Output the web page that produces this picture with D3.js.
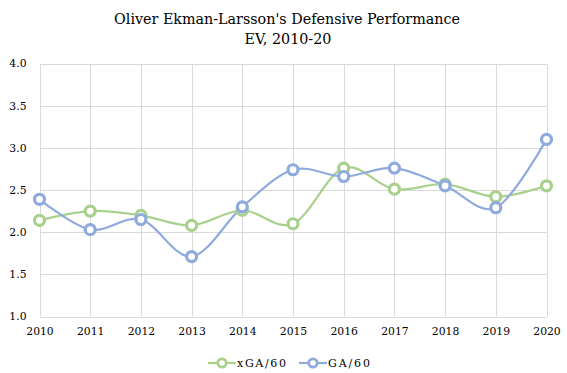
<!DOCTYPE html>
<html><head><meta charset="utf-8">
<script src="https://cdn.jsdelivr.net/npm/d3@7"></script>
<style>body{margin:0;background:#fff}svg{display:block}</style>
</head><body>
<svg id="c" width="567" height="373" font-family="DejaVu Serif, serif"></svg>
<script>
const years = [2010,2011,2012,2013,2014,2015,2016,2017,2018,2019,2020];
const xGA60 = [2.14,2.25,2.20,2.08,2.26,2.10,2.76,2.51,2.57,2.42,2.55];
const GA60  = [2.39,2.03,2.15,1.71,2.30,2.74,2.66,2.76,2.55,2.29,3.10];
const yTicks = [1.0,1.5,2.0,2.5,3.0,3.5,4.0];
const seriesNames = ["xGA/60","GA/60"];
const colors = ["#a9d18e","#8faadc"];
const FONT = "DejaVu Serif, serif";

const svg = d3.select("#c");
const x = d3.scaleLinear().domain([2010,2020]).range([39.5,546.5]);
const y = d3.scaleLinear().domain([1,4]).range([316.5,63.5]);

svg.append("text").attr("x",287).attr("y",24).attr("text-anchor","middle").attr("font-family",FONT).attr("font-size",14.3).text("Oliver Ekman-Larsson's Defensive Performance");
svg.append("text").attr("x",288).attr("y",44).attr("text-anchor","middle").attr("font-family",FONT).attr("font-size",14.3).text("EV, 2010-20");

const g = svg.append("g");
g.selectAll(".hg").data(yTicks).join("line").attr("x1",x(2010)).attr("x2",x(2020))
 .attr("y1",d=>Math.round(y(d))+0.5).attr("y2",d=>Math.round(y(d))+0.5).attr("stroke","#d9d9d9").attr("stroke-width",1);
g.selectAll(".vg").data(years).join("line").attr("y1",y(4)).attr("y2",y(1))
 .attr("x1",d=>Math.round(x(d))+0.5).attr("x2",d=>Math.round(x(d))+0.5).attr("stroke","#d9d9d9").attr("stroke-width",1);

const yAxis = d3.axisLeft(y).tickValues(yTicks).tickFormat(d3.format(".1f")).tickSize(0).tickPadding(13);
const ya = svg.append("g").attr("transform",`translate(${x(2010)},0)`).call(yAxis)
 .attr("font-family",FONT).attr("font-size",10.8);
ya.select(".domain").remove();
ya.selectAll("text").attr("fill","#000");
const xAxis = d3.axisBottom(x).tickValues(years).tickFormat(d3.format("d")).tickSize(0).tickPadding(11);
const xa = svg.append("g").attr("transform",`translate(0,${y(1)})`).call(xAxis)
 .attr("font-family",FONT).attr("font-size",10.8);
xa.select(".domain").remove();
xa.selectAll("text").attr("fill","#000");

const series = [xGA60, GA60];
const line = d3.line().x((d,i)=>x(years[i])).y(d=>y(d)).curve(d3.curveCardinal.tension(0));
series.forEach((s,k)=>{
  svg.append("path").datum(s).attr("d",line).attr("fill","none").attr("stroke",colors[k]).attr("stroke-width",2.2);
});
series.forEach((s,k)=>{
  svg.selectAll(".m"+k).data(s).join("circle").attr("cx",(d,i)=>x(years[i])).attr("cy",d=>y(d))
   .attr("r",5).attr("fill","#fff").attr("stroke",colors[k]).attr("stroke-width",3.2);
});

const leg = [{x0:208,tx:237,w:49},{x0:299,tx:328,w:42}];
seriesNames.forEach((n,k)=>{
  const L = leg[k];
  svg.append("line").attr("x1",L.x0).attr("x2",L.x0+28).attr("y1",363).attr("y2",363).attr("stroke",colors[k]).attr("stroke-width",2.2);
  svg.append("circle").attr("cx",L.x0+14).attr("cy",363).attr("r",4.2).attr("fill","#fff").attr("stroke",colors[k]).attr("stroke-width",2.8);
  svg.append("text").attr("x",L.tx).attr("y",367).attr("font-family",FONT).attr("font-size",11)
   .attr("textLength",L.w).attr("lengthAdjust","spacing").text(n);
});
</script>
</body></html>
